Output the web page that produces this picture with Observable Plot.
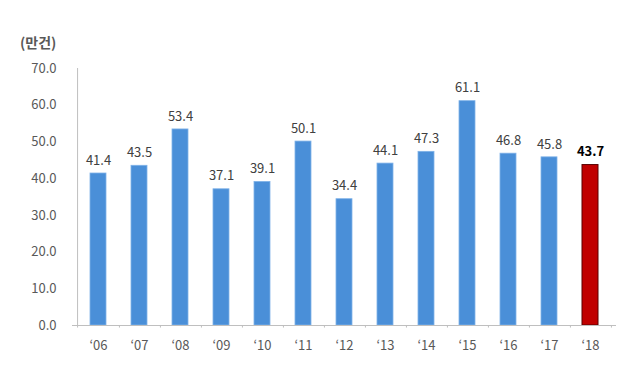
<!DOCTYPE html>
<html><head><meta charset="utf-8">
<script src="https://cdn.jsdelivr.net/npm/d3@7"></script>
<script src="https://cdn.jsdelivr.net/npm/@observablehq/plot@0.6"></script>
<style>
body{margin:0;background:#fff;}
#wrap{position:relative;width:640px;height:381px;}
#title{position:absolute;left:20px;top:32px;font-family:"Noto Sans CJK KR",sans-serif;font-size:14px;font-weight:bold;color:#595959;}
</style></head>
<body><div id="wrap"><div id="title">(만건)</div></div>
<script>
const years = ["‘06","‘07","‘08","‘09","‘10","‘11","‘12","‘13","‘14","‘15","‘16","‘17","‘18"];
const values = [41.4,43.5,53.4,37.1,39.1,50.1,34.4,44.1,47.3,61.1,46.8,45.8,43.7];
const highlight = "‘18";
const yTicks = [0,10,20,30,40,50,60,70];

const data = years.map((y,i)=>({year:y, value:values[i], hi:y===highlight}));
const mL=72, mR=24, W=640;
const pi=0.6, po=0.3;
const step=(W-mL-mR)/(years.length - pi + 2*po);

const chart = Plot.plot({
  width: W, height: 381,
  marginTop: 68, marginBottom: 56, marginLeft: mL, marginRight: mR,
  style:{fontFamily:"'Noto Sans CJK KR', sans-serif", fontSize:"13px", color:"#595959", background:"transparent"},
  x:{domain: years, paddingInner: pi, paddingOuter: po, label:null},
  y:{domain:[0,70], label:null},
  marks:[
    Plot.barY(data.filter(d=>!d.hi), {x:"year", y:"value", fill:"#4a8fd8", stroke:"#7fb2e8", strokeWidth:0.8}),
    Plot.barY(data.filter(d=>d.hi), {x:"year", y:"value", fill:"#c00000", stroke:"#5a0000", strokeWidth:1}),
    Plot.text(data.filter(d=>!d.hi), {x:"year", y:"value", text:d=>d.value.toFixed(1), dy:-13, fill:"#404040", fontSize:13}),
    Plot.text(data.filter(d=>d.hi), {x:"year", y:"value", text:d=>d.value.toFixed(1), dy:-13, fill:"#000", fontSize:13, fontWeight:"bold"}),
    Plot.ruleY([0], {stroke:"#bfbfbf"}),
    Plot.ruleX([0], {x:()=>years[0], dx:-step/2, y1:0, y2:70, stroke:"#bfbfbf"}),
    Plot.ruleX(years, {x:d=>d, dx:step/2, y1:0, y2:-0.7, stroke:"#bfbfbf"}),
    Plot.ruleX([years[0]], {x:d=>d, dx:-step/2, y1:0, y2:-0.7, stroke:"#bfbfbf"}),
    Plot.axisY(yTicks, {tickFormat:d=>d.toFixed(1), tickSize:0, tickPadding:16, fill:"#595959", fontSize:13}),
    Plot.axisX({tickSize:0, tickPadding:15, fill:"#595959", fontSize:13})
  ]
});
document.getElementById("wrap").appendChild(chart);
chart.style.position="absolute"; chart.style.left="0"; chart.style.top="0";
</script></body></html>
